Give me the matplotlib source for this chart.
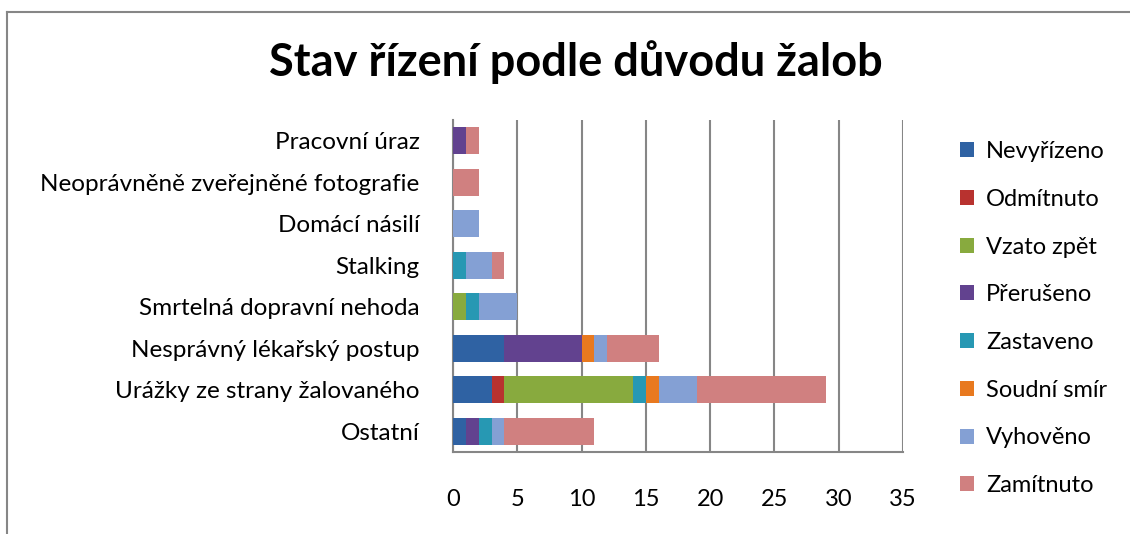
import matplotlib.pyplot as plt
from matplotlib.lines import Line2D
import numpy as np

plt.rcParams['font.family'] = ['Lato', 'DejaVu Sans']

# kategorie odspodu nahoru
duvody = ["Ostatní", "Urážky ze strany žalovaného", "Nesprávný lékařský postup",
          "Smrtelná dopravní nehoda", "Stalking", "Domácí násilí",
          "Neoprávněně zveřejněné fotografie", "Pracovní úraz"]

stavy = ["Nevyřízeno", "Odmítnuto", "Vzato zpět", "Přerušeno",
         "Zastaveno", "Soudní smír", "Vyhověno", "Zamítnuto"]

nevyrizeno  = [1, 3, 4, 0, 0, 0, 0, 0]
odmitnuto   = [0, 1, 0, 0, 0, 0, 0, 0]
vzato_zpet  = [0, 10, 0, 1, 0, 0, 0, 0]
preruseno   = [1, 0, 6, 0, 0, 0, 0, 1]
zastaveno   = [1, 1, 0, 1, 1, 0, 0, 0]
soudni_smir = [0, 1, 1, 0, 0, 0, 0, 0]
vyhoveno    = [1, 3, 1, 3, 2, 2, 0, 0]
zamitnuto   = [7, 10, 4, 0, 1, 0, 2, 1]

hodnoty = [nevyrizeno, odmitnuto, vzato_zpet, preruseno,
           zastaveno, soudni_smir, vyhoveno, zamitnuto]
barvy = ["#2f62a3", "#b8322f", "#88aa3e", "#62428f",
         "#2798b3", "#e8791f", "#84a0d4", "#d08080"]

W, H = 1130, 534
fig = plt.figure(figsize=(W / 100, H / 100), dpi=100)
ax = fig.add_axes([453 / W, (H - 452) / H, (903 - 453) / W, (452 - 120) / H])

y = np.arange(len(duvody))
zleva = np.zeros(len(duvody))
for stav, data, barva in zip(stavy, hodnoty, barvy):
    data = np.array(data)
    ax.barh(y, data, left=zleva, height=0.65, color=barva, label=stav, zorder=3)
    zleva += data

ax.set_xlim(0, 35)
ax.set_ylim(-0.5, len(duvody) - 0.5)
ax.set_xticks(range(0, 36, 5))
ax.set_yticks(y)
ax.set_yticklabels(duvody)
ax.xaxis.grid(True, color="#868686", linewidth=1.5, zorder=0)
for s in ["top", "right"]:
    ax.spines[s].set_visible(False)
ax.spines["left"].set_color("#868686")
ax.spines["bottom"].set_color("#868686")
ax.spines["left"].set_linewidth(1.5)
ax.spines["bottom"].set_linewidth(1.5)
ax.tick_params(axis="x", length=0, pad=27, labelsize=17)
ax.tick_params(axis="y", length=0, pad=24, labelsize=17.5)

fig.text(576 / W, 1 - 62 / H, "Stav řízení podle důvodu žalob", ha="center", va="center",
         fontsize=32.5, fontweight="bold")

handles, labels = ax.get_legend_handles_labels()
ax.legend(handles, labels, loc="upper left", bbox_to_anchor=(939 / W, 1 - 120 / H),
          bbox_transform=fig.transFigure, frameon=False, fontsize=17,
          handlelength=0.6, handleheight=0.6, handletextpad=0.5, labelspacing=1.13)

# ramecek grafu
fig.add_artist(Line2D([7 / W, 1], [1 - 12 / H, 1 - 12 / H], color="#868686", linewidth=1.5))
fig.add_artist(Line2D([7 / W, 7 / W], [0, 1 - 12 / H], color="#868686", linewidth=1.5))

fig.savefig("out.png", dpi=100)
